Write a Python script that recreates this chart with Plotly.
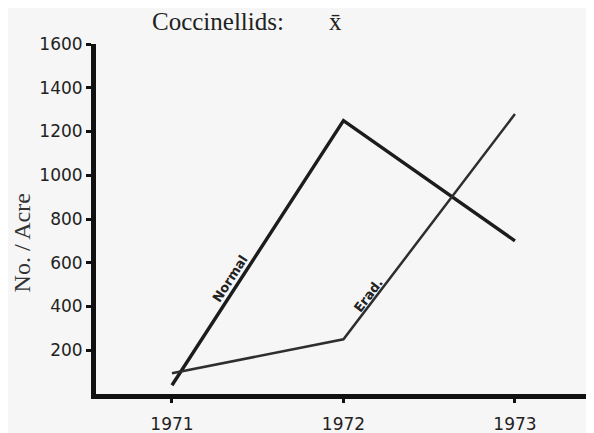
import plotly.graph_objects as go

years = [1971, 1972, 1973]
normal = [40, 1250, 700]
erad = [95, 250, 1280]
y_ticks = [200, 400, 600, 800, 1000, 1200, 1400, 1600]

bg = "#f6f6f6"
fig = go.Figure()
fig.add_trace(go.Scatter(x=years, y=normal, mode="lines", name="Normal",
                         line=dict(color="#1c1c1c", width=3.4)))
fig.add_trace(go.Scatter(x=years, y=erad, mode="lines", name="Erad.",
                         line=dict(color="#2e2e2e", width=2.5)))

fig.update_layout(
    width=586, height=425,
    margin=dict(l=88, r=0, t=36, b=39),
    paper_bgcolor=bg, plot_bgcolor=bg,
    showlegend=False,
    font=dict(family="DejaVu Sans", color="#1a1a1a"),
    xaxis=dict(range=[1970.557, 1973.461], tickvals=years, ticktext=[str(y) for y in years],
               showgrid=False, zeroline=False, showline=True, linewidth=5, linecolor="#111",
               ticks="outside", ticklen=4, tickwidth=3, tickcolor="#111",
               ticklabelstandoff=7,
               tickfont=dict(size=17, family="DejaVu Sans", color="#222")),
    yaxis=dict(range=[0, 1600], tickvals=y_ticks, showgrid=False, zeroline=False,
               showline=True, linewidth=5, linecolor="#111",
               ticks="outside", ticklen=5, tickwidth=3, tickcolor="#111",
               tickfont=dict(size=17, family="DejaVu Sans", color="#222")),
)

fig.add_annotation(text="Coccinellids:", xref="paper", yref="paper", x=0.108, y=1.063,
                   xanchor="left", yanchor="middle", showarrow=False,
                   font=dict(family="Liberation Serif", size=25, color="#222"))
fig.add_annotation(text="x̄", xref="paper", yref="paper", x=0.48, y=1.063,
                   xanchor="center", yanchor="middle", showarrow=False,
                   font=dict(family="Liberation Serif", size=25, color="#222"))
fig.add_annotation(text="No. / Acre", xref="paper", yref="paper", x=-0.148, y=0.431,
                   xanchor="center", yanchor="middle", textangle=-90, showarrow=False,
                   font=dict(family="Liberation Serif", size=24, color="#333"))
fig.add_annotation(text="<b>Normal</b>", x=1971.338, y=530, textangle=-57, showarrow=False,
                   font=dict(family="DejaVu Sans", size=13, color="#222"))
fig.add_annotation(text="<b>Erad.</b>", x=1972.143, y=452, textangle=-53, showarrow=False,
                   font=dict(family="DejaVu Sans", size=13, color="#222"))

fig.write_html("out.html")
